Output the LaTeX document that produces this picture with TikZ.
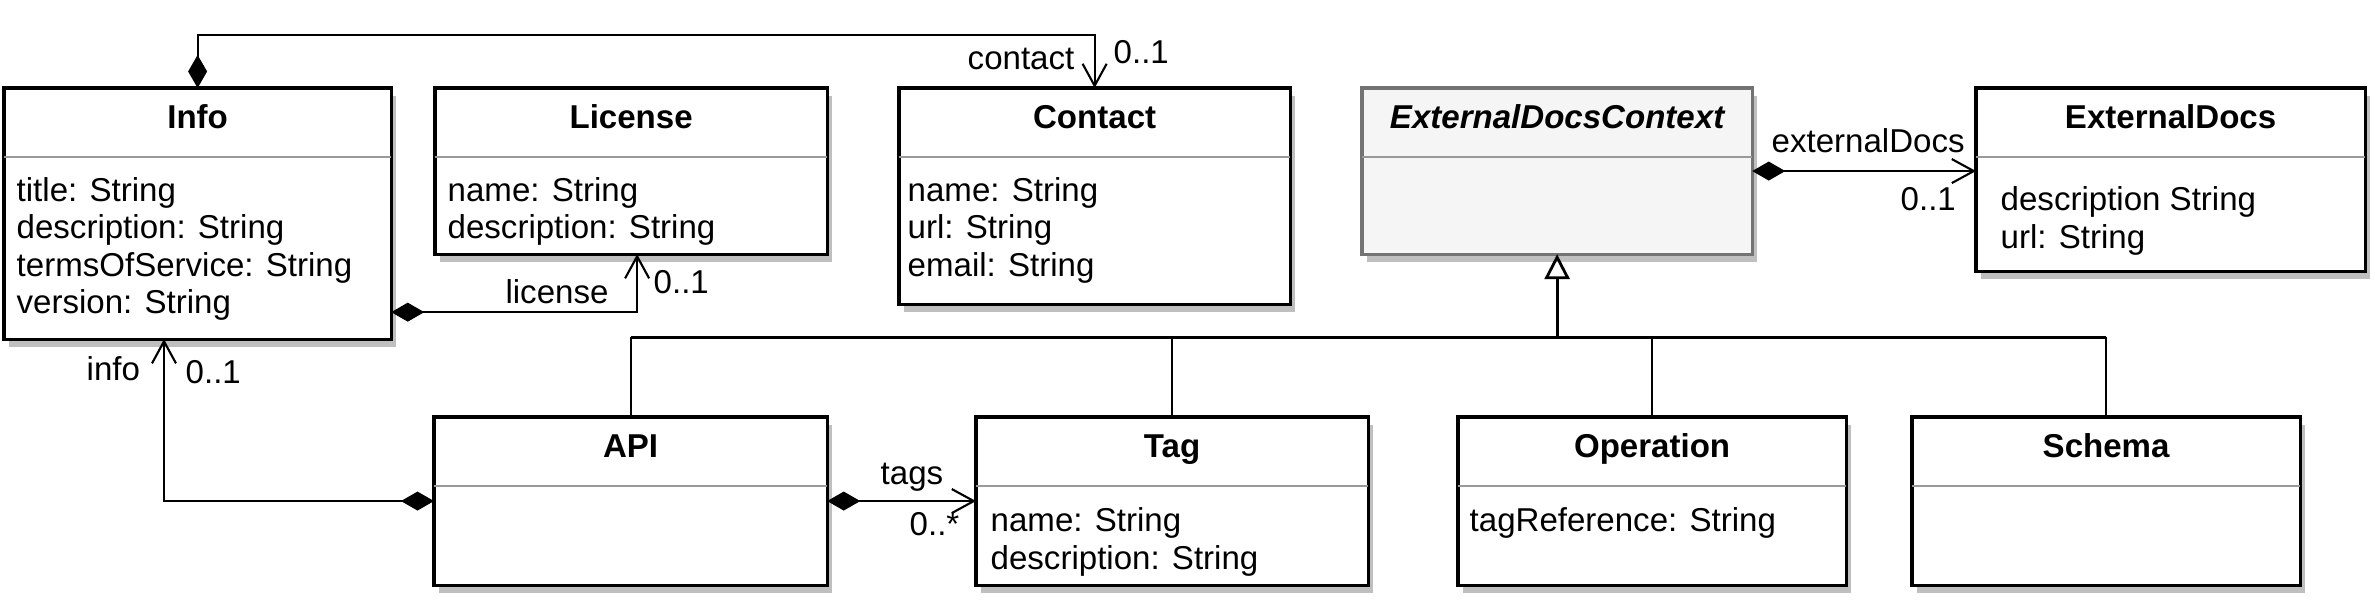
\documentclass[tikz,border=0pt]{standalone}
\usepackage{fontspec}
\setmainfont{Liberation Sans}
\usetikzlibrary{arrows.meta,calc,shadows}

\begin{document}
\begin{tikzpicture}[x=0.01cm, y=-0.01cm,
  font=\fontsize{9.4}{10.7}\selectfont,
  cls/.style={draw, line width=0.9pt, fill=white, anchor=north west, inner sep=0pt, outer sep=0pt,
    drop shadow={shadow xshift=0.05cm, shadow yshift=-0.08cm, fill=black!25, opacity=1}},
  ctitle/.style={anchor=base, font=\fontsize{9.4}{10.7}\selectfont\bfseries},
  cattr/.style={anchor=base west, inner sep=0pt},
  csep/.style={black!40, line width=0.8pt},
  lbl/.style={anchor=base west, inner sep=0pt},
  assoc/.style={line width=0.6pt, {Diamond[length=3.3mm,width=1.9mm]}-{Straight Barb[length=2.2mm,width=2.4mm]}},
  inherit/.style={line width=0.8pt, -{Triangle[open,length=2.5mm,width=2.5mm]}},
  link/.style={line width=0.6pt}]
  \useasboundingbox (0,0) rectangle (2375,614);

  % classes
  \node[cls, minimum width=3.87cm, minimum height=2.51cm] (info) at (4,88) {};
  \node[cls, minimum width=3.92cm, minimum height=1.66cm] (license) at (435,88) {};
  \node[cls, minimum width=3.91cm, minimum height=2.16cm] (contact) at (899,88) {};
  \node[cls, draw=black!55, fill=black!4, minimum width=3.90cm, minimum height=1.66cm] (edc) at (1362,88) {};
  \node[cls, minimum width=3.89cm, minimum height=1.83cm] (extdocs) at (1976,88) {};
  \node[cls, minimum width=3.93cm, minimum height=1.68cm] (api) at (434,417) {};
  \node[cls, minimum width=3.92cm, minimum height=1.68cm] (tag) at (976,417) {};
  \node[cls, minimum width=3.88cm, minimum height=1.68cm] (oper) at (1458,417) {};
  \node[cls, minimum width=3.88cm, minimum height=1.68cm] (schema) at (1912,417) {};

  % titles and compartments
  \foreach \n/\t in {info/Info, license/License, contact/Contact, extdocs/ExternalDocs,
      api/API, tag/Tag, oper/Operation, schema/Schema}
    \node[ctitle] (\n-title) at ($(\n.north)+(0,40)$) {\t};
  \node[ctitle, font=\fontsize{9.4}{10.7}\selectfont\bfseries\itshape] (edc-title)
    at ($(edc.north)+(0,40)$) {ExternalDocsContext};
  \foreach \n in {info, license, contact, edc, extdocs, api, tag, oper, schema}
    \draw[csep] ($(\n.north west)+(0,69)$) -- ($(\n.north east)+(0,69)$);

  % attributes
  \foreach \a [count=\i] in {title: String, description: String, termsOfService: String, version: String}
    \node[cattr] (info-a\i) at ($(info.north west)+(12,75.5+37.5*\i)$) {\a};
  \foreach \a [count=\i] in {name: String, description: String}
    \node[cattr] (license-a\i) at ($(license.north west)+(12,75.5+37.5*\i)$) {\a};
  \foreach \a [count=\i] in {name: String, url: String, email: String}
    \node[cattr] (contact-a\i) at ($(contact.north west)+(8,75.5+37.5*\i)$) {\a};
  \foreach \a [count=\i] in {description String, url: String}
    \node[cattr] (extdocs-a\i) at ($(extdocs.north west)+(24,84+38*\i)$) {\a};
  \foreach \a [count=\i] in {name: String, description: String}
    \node[cattr] (tag-a\i) at ($(tag.north west)+(14,76+38*\i)$) {\a};
  \node[cattr] (oper-a1) at ($(oper.north west)+(11,114)$) {tagReference: String};

  % associations
  \draw[assoc] (info.north) -- ++(0,-53) -| (contact.north);
  \draw[assoc] ($(info.south east)+(0,-27)$) -| ($(license.south)+(6,0)$);
  \draw[assoc] (api.west) -| ($(info.south west)+(160,0)$);
  \draw[assoc] (api.east) -- (tag.west);
  \draw[assoc] (edc.east) -- (edc.east -| extdocs.west);

  % generalization
  \coordinate (bus) at (0,337);
  \draw[inherit] (edc.south |- bus) -- (edc.south);
  \draw[link] (api.north) -- (api.north |- bus);
  \draw[link] (tag.north) -- (tag.north |- bus);
  \draw[link] (oper.north) -- (oper.north |- bus);
  \draw[link] (schema.north) -- (schema.north |- bus);
  \draw[link, line width=0.85pt] (api.north |- bus) -- (schema.north |- bus);

  % role names and multiplicities
  \node[lbl, anchor=base east] (l-contact) at (1075,69) {contact};
  \node[lbl] (m-contact) at (1113,63) {0..1};
  \node[lbl, anchor=base] (l-license) at (557,303) {license};
  \node[lbl] (m-license) at (653,293) {0..1};
  \node[lbl] (l-extdocs) at (1771,152) {externalDocs};
  \node[lbl] (m-extdocs) at (1900,210) {0..1};
  \node[lbl] (l-info) at (86,380) {info};
  \node[lbl] (m-info) at (185,383) {0..1};
  \node[lbl] (l-tags) at (880,484) {tags};
  \node[lbl] (m-tags) at (909,535) {0..*};
\end{tikzpicture}
\end{document}
